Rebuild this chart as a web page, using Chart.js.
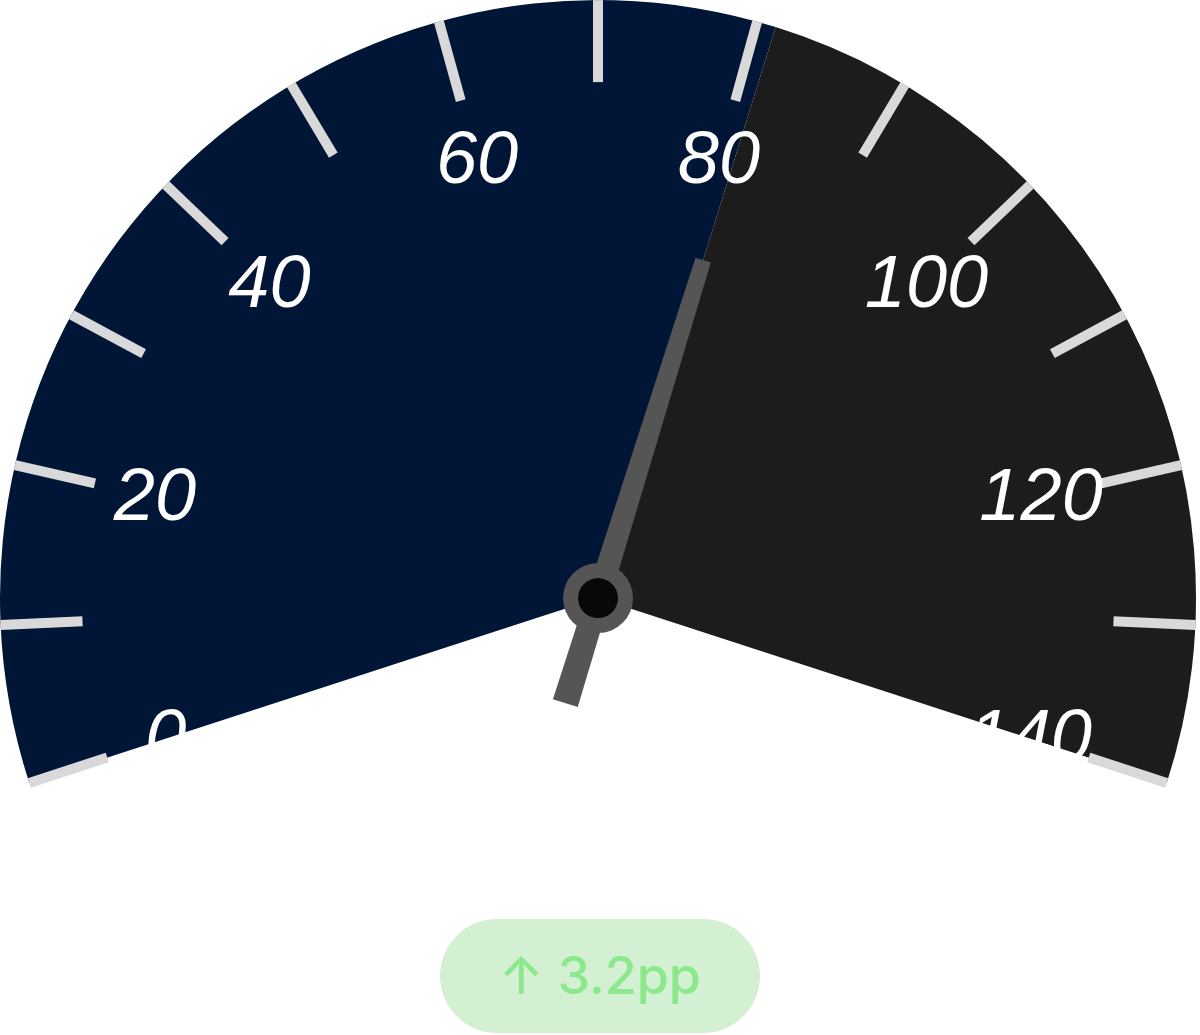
<!DOCTYPE html>
<html>
<head>
<meta charset="utf-8">
<script src="https://cdn.jsdelivr.net/npm/chart.js@4.4.1/dist/chart.umd.min.js"></script>
<style>
  html, body { margin: 0; padding: 0; background: #fff; }
  body {
    width: 1200px; height: 1035px; position: relative; overflow: hidden;
    font-family: "Liberation Sans", Arial, Helvetica, sans-serif;
  }
  .gauge-wrap { position: absolute; left: 0; top: 0; width: 1200px; height: 800px; }
  .caption { position: absolute; left: 0; width: 1200px; text-align: center; color: #fff; }
  .caption.sub { top: 770px; font-size: 21px; font-weight: 600; letter-spacing: 3px; line-height: 26px; }
  .caption.value { top: 812px; font-size: 80px; font-style: italic; line-height: 1; }
  .badge {
    position: absolute; left: 440px; top: 919px; width: 320px; height: 114px;
    border-radius: 57px; background: #d3f0d3; color: #8ce88c;
    font-family: Inter, "Liberation Sans", sans-serif; font-weight: 500;
    font-size: 52px; line-height: 114px; text-align: center;
  }
</style>
</head>
<body>
<div class="gauge-wrap"><canvas id="gaugeChart"></canvas></div>
<div class="caption sub">AFTER 24H</div>
<div class="caption value">81.2%</div>
<div class="badge">↑ 3.2pp</div>
<script>
const gaugeMin = 0;
const gaugeMax = 140;
const currentValue = 81.2;
const tickValues = [0, 10, 20, 30, 40, 50, 60, 70, 80, 90, 100, 110, 120, 130, 140];
const labelValues = [0, 20, 40, 60, 80, 100, 120, 140];
const segmentValues = [currentValue - gaugeMin, gaugeMax - currentValue];
const segmentColors = ['#011636', '#1c1c1c'];

// ticks, labels, needle and hub, all placed from the arc the library laid out
const gaugeDecor = {
  id: 'gaugeDecor',
  afterDatasetsDraw(chart) {
    const ctx = chart.ctx;
    const arc = chart.getDatasetMeta(0).data[0];
    const { x: cx, y: cy, startAngle, outerRadius: R } = arc.getProps(['x', 'y', 'startAngle', 'outerRadius'], true);
    const sweep = chart.options.circumference * Math.PI / 180;
    const angleOf = v => startAngle + (v - gaugeMin) / (gaugeMax - gaugeMin) * sweep;

    ctx.save();
    ctx.strokeStyle = '#d9d9d9';
    ctx.lineWidth = 10;
    tickValues.forEach(v => {
      const a = angleOf(v);
      ctx.beginPath();
      ctx.moveTo(cx + Math.cos(a) * R, cy + Math.sin(a) * R);
      ctx.lineTo(cx + Math.cos(a) * (R - 82), cy + Math.sin(a) * (R - 82));
      ctx.stroke();
    });

    ctx.fillStyle = '#fff';
    ctx.font = 'italic 74px "Liberation Sans", Arial, sans-serif';
    ctx.textAlign = 'center';
    ctx.textBaseline = 'middle';
    labelValues.forEach(v => {
      const a = angleOf(v);
      const r = R * 0.76;
      ctx.fillText(String(v), cx + Math.cos(a) * r, cy + Math.sin(a) * r + 2);
    });

    // tapered needle
    const a = angleOf(currentValue);
    const ux = Math.cos(a), uy = Math.sin(a);
    const px = -uy, py = ux;
    const tip = 354, tail = 110, wTip = 8, wTail = 13;
    ctx.fillStyle = '#555555';
    ctx.beginPath();
    ctx.moveTo(cx + ux * tip + px * wTip, cy + uy * tip + py * wTip);
    ctx.lineTo(cx + ux * tip - px * wTip, cy + uy * tip - py * wTip);
    ctx.lineTo(cx - ux * tail - px * wTail, cy - uy * tail - py * wTail);
    ctx.lineTo(cx - ux * tail + px * wTail, cy - uy * tail + py * wTail);
    ctx.closePath();
    ctx.fill();

    ctx.beginPath();
    ctx.arc(cx, cy, 35, 0, Math.PI * 2);
    ctx.fill();
    ctx.fillStyle = '#080808';
    ctx.beginPath();
    ctx.arc(cx, cy, 20, 0, Math.PI * 2);
    ctx.fill();
    ctx.restore();
  }
};

new Chart(document.getElementById('gaugeChart'), {
  type: 'doughnut',
  data: {
    labels: ['Value', 'Remaining'],
    datasets: [{
      data: segmentValues,
      backgroundColor: segmentColors,
      borderWidth: 0,
      hoverOffset: 0,
      offset: 0
    }]
  },
  options: {
    responsive: true,
    maintainAspectRatio: false,
    animation: false,
    rotation: -108,
    circumference: 216,
    cutout: 0,
    layout: { padding: { left: 0, right: 4, top: 0, bottom: 17 } },
    events: [],
    plugins: {
      legend: { display: false },
      tooltip: { enabled: false }
    }
  },
  plugins: [gaugeDecor]
});
</script>
</body>
</html>
